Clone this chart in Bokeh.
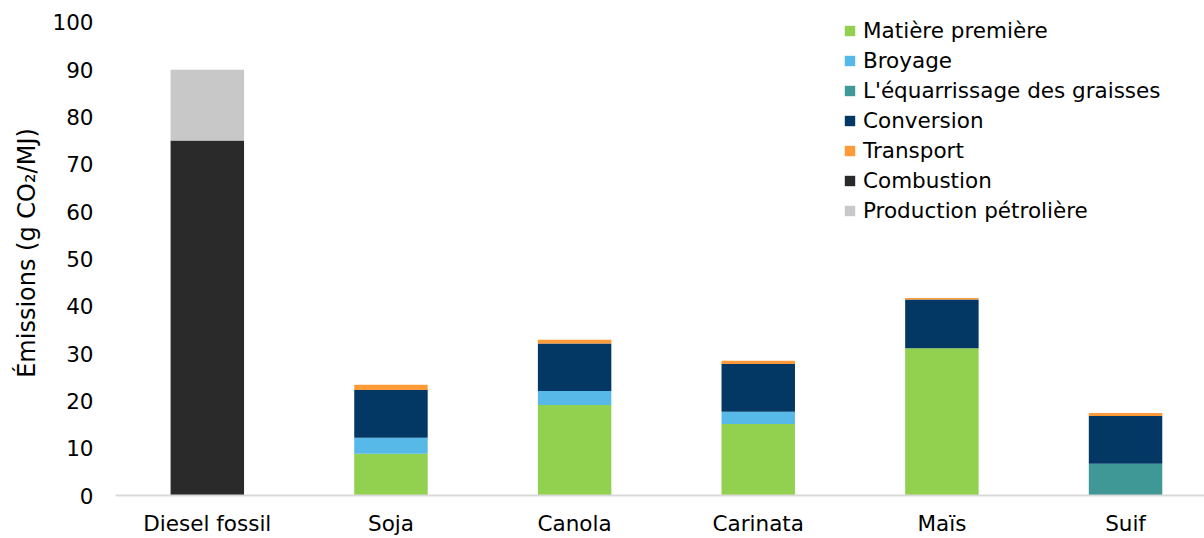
from bokeh.plotting import figure
from bokeh.models import Range1d, FixedTicker, Legend, LegendItem
from bokeh.embed import file_html
from bokeh.resources import INLINE

categories = ["Diesel fossil", "Soja", "Canola", "Carinata", "Maïs", "Suif"]
matiere = [0, 8.8, 19.1, 15.1, 31.1, 0]
broyage = [0, 3.4, 3.0, 2.6, 0, 0]
equarrissage = [0, 0, 0, 0, 0, 6.7]
conversion = [0, 10.1, 10.0, 10.1, 10.3, 10.1]
transport = [0, 1.1, 0.8, 0.7, 0.35, 0.65]
combustion = [75, 0, 0, 0, 0, 0]
production = [15, 0, 0, 0, 0, 0]
y_ticks = [0, 10, 20, 30, 40, 50, 60, 70, 80, 90, 100]

series_names = ["Matière première", "Broyage", "L'équarrissage des graisses",
                "Conversion", "Transport", "Combustion", "Production pétrolière"]
series_vals = [matiere, broyage, equarrissage, conversion, transport, combustion, production]
colors = ["#92d050", "#56b9e8", "#3f9896", "#033865", "#ff9a38", "#2b2a2a", "#c8c8c8"]

FONT = "DejaVu Sans"
FS = "21.5px"
x = list(range(len(categories)))
data = {"x": x}
keys = []
for i, v in enumerate(series_vals):
    k = f"s{i}"
    data[k] = v
    keys.append(k)

p = figure(width=1204, height=538, output_backend="svg", toolbar_location=None,
           x_range=Range1d(-0.5, 5.43), y_range=Range1d(0, 102.5),
           min_border_left=115, min_border_right=0, min_border_top=10, min_border_bottom=43)
p.outline_line_color = None
p.background_fill_color = "white"
p.border_fill_color = "white"
p.grid.visible = False

renderers = p.vbar_stack(keys, x="x", width=0.4, color=colors, line_color=None, source=data)

p.xaxis.ticker = FixedTicker(ticks=x)
p.xaxis.major_label_overrides = {i: c for i, c in enumerate(categories)}
p.xaxis.axis_line_color = "#d9d9d9"
p.xaxis.axis_line_width = 2
p.xaxis.major_tick_line_color = None
p.xaxis.minor_tick_line_color = None
p.xaxis.major_tick_out = 0
p.xaxis.major_tick_in = 0
p.xaxis.major_label_standoff = 15
p.xaxis.major_label_text_font = FONT
p.xaxis.major_label_text_font_size = FS
p.xaxis.major_label_text_color = "#000000"

p.yaxis.ticker = FixedTicker(ticks=y_ticks)
p.yaxis.axis_line_color = None
p.yaxis.major_tick_line_color = None
p.yaxis.minor_tick_line_color = None
p.yaxis.major_tick_out = 0
p.yaxis.major_tick_in = 0
p.yaxis.major_label_standoff = 22
p.yaxis.major_label_text_font = FONT
p.yaxis.major_label_text_font_size = FS
p.yaxis.major_label_text_color = "#000000"
p.yaxis.axis_label = "Émissions (g CO₂/MJ)"
p.yaxis.axis_label_text_font = FONT
p.yaxis.axis_label_text_font_size = "24px"
p.yaxis.axis_label_text_font_style = "normal"
p.yaxis.axis_label_text_color = "#000000"
p.yaxis.axis_label_standoff = 8

items = [LegendItem(label=n, renderers=[r]) for n, r in zip(series_names, renderers)]
legend = Legend(items=items, location="top_right")
legend.label_text_font = FONT
legend.label_text_font_size = FS
legend.label_text_color = "#000000"
legend.glyph_width = 13
legend.glyph_height = 13
legend.spacing = 5
legend.label_height = 20
legend.label_standoff = 7
legend.border_line_color = None
legend.background_fill_alpha = 0
legend.padding = 0
legend.margin = 0
legend.location = (728, 272)
p.add_layout(legend, "center")

open("out.html", "w").write(file_html(p, INLINE))
